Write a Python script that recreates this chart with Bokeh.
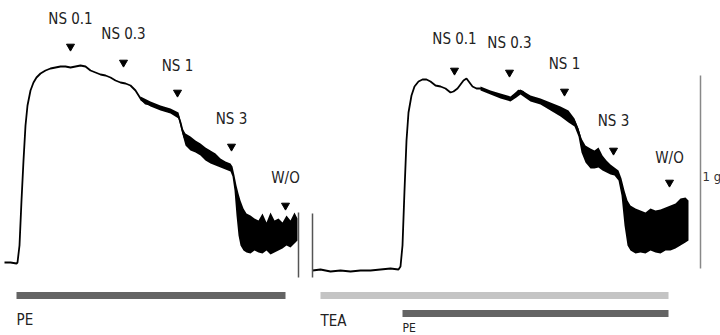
from bokeh.plotting import figure
from bokeh.models import Range1d
from bokeh.core.properties import value
from bokeh.embed import file_html
from bokeh.resources import INLINE

# ---- data (time axis in chart units, tension in chart units; y grows downward on screen) ----
left_t = [4, 10, 16, 17, 19, 21, 23, 25, 27, 30, 33, 36, 40, 45, 50, 55, 60, 65, 70, 75, 80, 85, 90,
          95, 100, 105, 110, 115, 120, 125, 130, 135, 140, 145, 150, 155, 160, 165, 170, 175, 178,
          180, 182, 184]
left_y = [262, 262, 263, 262, 245, 200, 160, 125, 105, 90, 82, 77, 73, 70, 68, 67, 66, 66, 67, 66, 65,
          66, 70, 72, 74, 75, 77, 80, 82, 83, 85, 90, 98, 103, 104, 106, 108, 110, 111, 113, 116,
          122, 130, 137]

left_band_t = [140, 150, 160, 170, 178, 182, 185, 190, 195, 200, 205, 210, 215, 220, 225, 230, 232,
               234, 236, 238, 240, 243, 246, 250, 254, 258, 262, 266, 270, 274, 278, 282, 286, 290,
               294, 297]
left_band_hi = [96, 101, 105, 108, 112, 128, 133, 136, 140, 143, 147, 150, 153, 158, 161, 163, 166,
                175, 185, 193, 200, 208, 213, 215, 218, 220, 213, 222, 212, 220, 218, 222, 215, 220,
                212, 218]
left_band_lo = [100, 106, 110, 113, 118, 134, 145, 150, 152, 155, 160, 163, 165, 167, 169, 171, 176,
                190, 215, 235, 245, 250, 252, 253, 250, 252, 253, 250, 254, 252, 250, 248, 245, 247,
                243, 240]

right_t = [312, 320, 330, 340, 350, 360, 370, 380, 390, 398, 400, 402, 404, 406, 408, 411, 414, 418,
           422, 426, 430, 435, 440, 445, 450, 453, 457, 460, 463, 466, 469, 472, 476, 480, 485, 490,
           495, 500, 505, 510, 514, 518, 522, 526, 530, 535, 540, 545, 550, 555, 560, 565, 570, 574,
           577, 580, 583, 586]
right_y = [270, 269, 271, 270, 271, 270, 270, 269, 268, 269, 266, 245, 190, 140, 112, 95, 86, 81, 79,
           79, 81, 85, 86, 88, 92, 91, 88, 84, 80, 78, 82, 86, 88, 88, 90, 92, 94, 95, 97, 98, 96, 90,
           91, 95, 98, 99, 101, 103, 105, 107, 110, 113, 116, 121, 128, 138, 148, 155]

right_band_t = [480, 490, 500, 510, 516, 520, 530, 540, 550, 560, 568, 574, 578, 581, 585, 590, 594,
                598, 602, 606, 610, 614, 618, 621, 624, 627, 630, 635, 640, 645, 650, 655, 660, 665,
                670, 675, 680, 685, 688]
right_band_hi = [86, 90, 93, 96, 91, 89, 95, 98, 102, 106, 110, 118, 128, 138, 145, 148, 150, 147,
                 155, 160, 164, 167, 170, 178, 190, 200, 205, 208, 210, 212, 208, 210, 209, 207, 205,
                 203, 198, 197, 200]
right_band_lo = [90, 94, 98, 101, 97, 94, 101, 104, 110, 116, 122, 126, 136, 152, 162, 168, 168, 167,
                 170, 172, 174, 175, 180, 195, 225, 245, 250, 253, 252, 253, 250, 252, 253, 250, 250,
                 248, 245, 242, 240]

marker_labels = ["NS 0.1", "NS 0.3", "NS 1", "NS 3", "W/O",
                 "NS 0.1", "NS 0.3", "NS 1", "NS 3", "W/O"]
marker_t = [70, 123, 177, 231, 285, 454, 509, 564, 613, 669]
marker_arrow_y = [46, 62, 92, 146, 205, 70, 72, 91, 150, 182]
marker_label_y = [18, 33, 65, 118, 177, 38, 42, 63, 120, 157]

bar_names = ["PE", "TEA", "PE"]
bar_start = [16, 320, 402]
bar_end = [285, 668, 668]
bar_row = [295, 295, 313]
bar_colors = ["#646464", "#c4c4c4", "#646464"]
bar_label_y = [319, 320, 327]
bar_label_size = ["15px", "15px", "12px"]

font = value("DejaVu Sans Condensed")

p = figure(width=720, height=335, x_range=Range1d(0, 720), y_range=Range1d(335, 0),
           output_backend="svg", toolbar_location=None, min_border=0)
p.axis.visible = False
p.grid.visible = False
p.outline_line_color = None
p.background_fill_color = "white"

# traces
p.line(left_t, left_y, line_color="black", line_width=1.8)
p.varea(x=left_band_t, y1=left_band_hi, y2=left_band_lo, fill_color="black")
p.line(right_t, right_y, line_color="black", line_width=1.8)
p.varea(x=right_band_t, y1=right_band_hi, y2=right_band_lo, fill_color="black")

# end / start markers of traces and scale bar
p.segment(x0=[298, 312], y0=[212, 213], x1=[298, 312], y1=[277, 277],
          line_color="#555555", line_width=1.5)
p.segment(x0=[700], y0=[75], x1=[700], y1=[268], line_color="#888888", line_width=1.5)
p.text(x=[702], y=[176], text=["1 g"], text_font=font, text_font_size="13px",
       text_baseline="middle", text_align="left", text_color="#333333")

# arrows and labels
p.scatter(marker_t, marker_arrow_y, marker="inverted_triangle", size=8,
          fill_color="black", line_color="black")
p.text(x=marker_t, y=marker_label_y, text=marker_labels, text_font=font,
       text_font_size="15px", text_align="center", text_baseline="middle", text_color="#222222")

# drug bars
p.hbar(y=bar_row, left=bar_start, right=bar_end, height=7, fill_color=bar_colors,
       line_color=None)
for name, x0, y0, fs in zip(bar_names, bar_start, bar_label_y, bar_label_size):
    p.text(x=[x0], y=[y0], text=[name], text_font=font, text_font_size=fs,
           text_align="left", text_baseline="middle", text_color="#222222")

open("out.html", "w").write(file_html(p, INLINE))
